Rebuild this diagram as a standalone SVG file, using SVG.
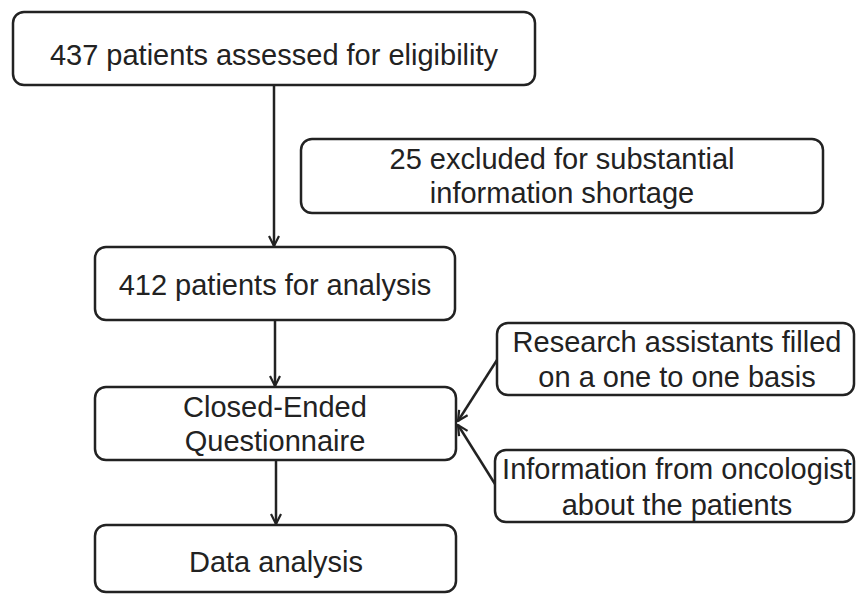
<svg xmlns="http://www.w3.org/2000/svg" width="856" height="594" viewBox="0 0 856 594">
<style>
.box{fill:#fff;stroke:#222;stroke-width:2.5}
.t{font-family:"Liberation Sans",Arial,sans-serif;font-size:29px;fill:#222;text-anchor:middle}
.c{stroke:#222;stroke-width:2.5;fill:none;marker-end:url(#ah)}
</style>
<defs>
<marker id="ah" viewBox="0 0 12 12" refX="11" refY="6" markerWidth="12" markerHeight="12" markerUnits="userSpaceOnUse" orient="auto">
<path d="M1,1 L11,6 L1,11" fill="none" stroke="#222" stroke-width="2.2"/>
</marker>
</defs>
<rect width="856" height="594" fill="#fff"/>
<g id="connectors">
<line class="c" x1="274" y1="85" x2="274" y2="246"/>
<line class="c" x1="275" y1="320" x2="275" y2="386"/>
<line class="c" x1="276" y1="460" x2="276" y2="524"/>
<line class="c" x1="497" y1="360" x2="458" y2="421"/>
<line class="c" x1="495" y1="484" x2="458" y2="425"/>
</g>
<g id="n1">
<rect class="box" x="13" y="12" width="522" height="73" rx="11"/>
<text class="t" x="274" y="65">437 patients assessed for eligibility</text>
</g>
<g id="n2">
<rect class="box" x="301" y="139" width="522" height="74" rx="11"/>
<text class="t" x="562" y="169">25 excluded for substantial</text>
<text class="t" x="562" y="203">information shortage</text>
</g>
<g id="n3">
<rect class="box" x="95" y="247" width="360" height="73" rx="11"/>
<text class="t" x="275" y="295">412 patients for analysis</text>
</g>
<g id="n4">
<rect class="box" x="95" y="387" width="361" height="73" rx="11"/>
<text class="t" x="275" y="417">Closed-Ended</text>
<text class="t" x="275" y="451">Questionnaire</text>
</g>
<g id="n5">
<rect class="box" x="95" y="525" width="361" height="67" rx="11"/>
<text class="t" x="276" y="572">Data analysis</text>
</g>
<g id="n6">
<rect class="box" x="497" y="323" width="357" height="72" rx="11"/>
<text class="t" x="677" y="352">Research assistants filled</text>
<text class="t" x="677" y="387">on a one to one basis</text>
</g>
<g id="n7">
<rect class="box" x="495" y="450" width="359" height="72" rx="11"/>
<text class="t" x="677" y="479">Information from oncologist</text>
<text class="t" x="677" y="515">about the patients</text>
</g>
</svg>
